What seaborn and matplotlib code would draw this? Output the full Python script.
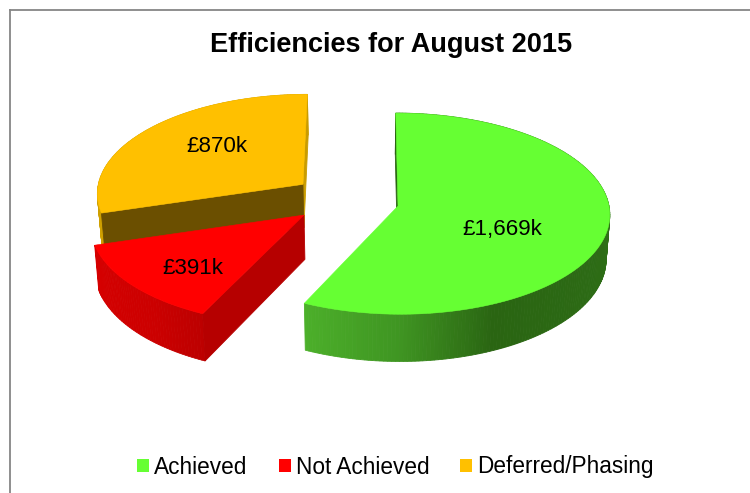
import numpy as np
import matplotlib
matplotlib.use('Agg')
import matplotlib.pyplot as plt
from matplotlib.colors import to_rgb
from matplotlib.patches import Patch
import seaborn as sns

# Chart data
title = 'Efficiencies for August 2015'
names = ['Achieved', 'Not Achieved', 'Deferred/Phasing']
values = [1669, 391, 870]
colors = ['#66ff33', '#ff0000', '#ffc000']

sns.set_theme(style="white")
plt.rcParams['font.family'] = ['Liberation Sans', 'DejaVu Sans']

# Fake 3D look: axes are in picture pixels, slices go through a small perspective
VIEW_X, VIEW_Y = 366, 206
RADIUS_Y = 100
PERSP = 0.076

# where each exploded slice has its tip (x, depth) and its width
tips = [(398, 0.0), (304.4, -0.09), (301.9, 0.22)]
radii = [211, 211, 208]
label_pos = [(502, 230), (193, 269), (217, 147)]

# rim shading of each slice by angle
rim_angles = [[-115, -90, -66, 0, 90],
              [-163, -130, -115],
              [-270, -163]]
rim_colors = [['#4cb02a', '#3f9522', '#2a6512', '#2e6f17', '#2e6f17'],
              ['#d60000', '#cc0000', '#bc0000'],
              ['#cfa000', '#cfa000']]
# flat cut faces that can be seen: (0 = start angle, 1 = end angle, colour)
cut_faces = [[(0, '#2a6512')],
             [(0, '#b60000')],
             [(1, '#c99c00'), (0, '#6b4f00')]]


def project(i, theta):
    t = np.radians(theta)
    depth = tips[i][1] + np.sin(t)
    s = 1 / (1 + PERSP * depth)
    x = VIEW_X + (tips[i][0] + radii[i] * np.cos(t) - VIEW_X) * s
    y = VIEW_Y - RADIUS_Y * depth * s
    return x, y


def apex(i):
    s = 1 / (1 + PERSP * tips[i][1])
    return VIEW_X + (tips[i][0] - VIEW_X) * s, VIEW_Y - RADIUS_Y * tips[i][1] * s


def drop(x, y):
    # same point on the underside of the pie
    return VIEW_X + (x - VIEW_X) * 0.985, y + 44 + 0.03 * (y - VIEW_Y)


fig = plt.figure(figsize=(7.5, 4.93), dpi=100)
ax = fig.add_axes([9.5 / 750, 0, 1 - 9.5 / 750, 483 / 493])
ax.set_xlim(9.5, 750)
ax.set_ylim(493, 10)
ax.set_xticks([])
ax.set_yticks([])
sns.despine(ax=ax, top=False, right=True, bottom=True)
for side in ['left', 'top']:
    ax.spines[side].set_color('#868686')
    ax.spines[side].set_linewidth(1.3)

edges = 90 - np.cumsum([0] + values) / sum(values) * 360

# back slices first so the front ones cover them
for i in [2, 1, 0]:
    start, end = edges[i], edges[i + 1]
    thetas = np.linspace(end, start, int(start - end) + 2)
    stops = np.array([to_rgb(c) for c in rim_colors[i]])
    z = i * -10

    # outer rim, one thin strip per degree
    for a, b in zip(thetas[:-1], thetas[1:]):
        x1, y1 = project(i, a)
        x2, y2 = project(i, b)
        x3, y3 = drop(x2, y2)
        x4, y4 = drop(x1, y1)
        mid = (a + b) / 2
        c = [np.interp(mid, rim_angles[i], stops[:, k]) for k in range(3)]
        ax.fill([x1, x2, x3, x4], [y1, y2, y3, y4], color=c, lw=0.6, zorder=z + 1)

    # cut faces
    for which, col in cut_faces[i]:
        x1, y1 = project(i, [start, end][which])
        x2, y2 = apex(i)
        x3, y3 = drop(x2, y2)
        x4, y4 = drop(x1, y1)
        ax.fill([x1, x2, x3, x4], [y1, y2, y3, y4], color=col, lw=0.6, zorder=z + 2)

    # top of the slice
    tx, ty = project(i, thetas)
    ax_, ay_ = apex(i)
    ax.fill(np.r_[ax_, tx], np.r_[ay_, ty], color=colors[i], lw=0.4, zorder=z + 3)

    ax.text(label_pos[i][0], label_pos[i][1], f'£{values[i]:,}k', fontsize=16.1,
            ha='center', va='center', color='black', zorder=5)

ax.text(391, 45, title, fontsize=19.5, fontweight='bold', ha='center', va='center', color='black')

handles = [Patch(facecolor=c, edgecolor='none', label=n) for c, n in zip(colors, names)]
ax.legend(handles=handles, loc='center', bbox_to_anchor=(395.5, 467), bbox_transform=ax.transData,
          ncol=3, frameon=False, fontsize=16.3, handlelength=0.53, handleheight=0.53,
          handletextpad=0.22, columnspacing=1.37, labelcolor='black', borderpad=0, borderaxespad=0)

fig.savefig('out.png', dpi=100)
